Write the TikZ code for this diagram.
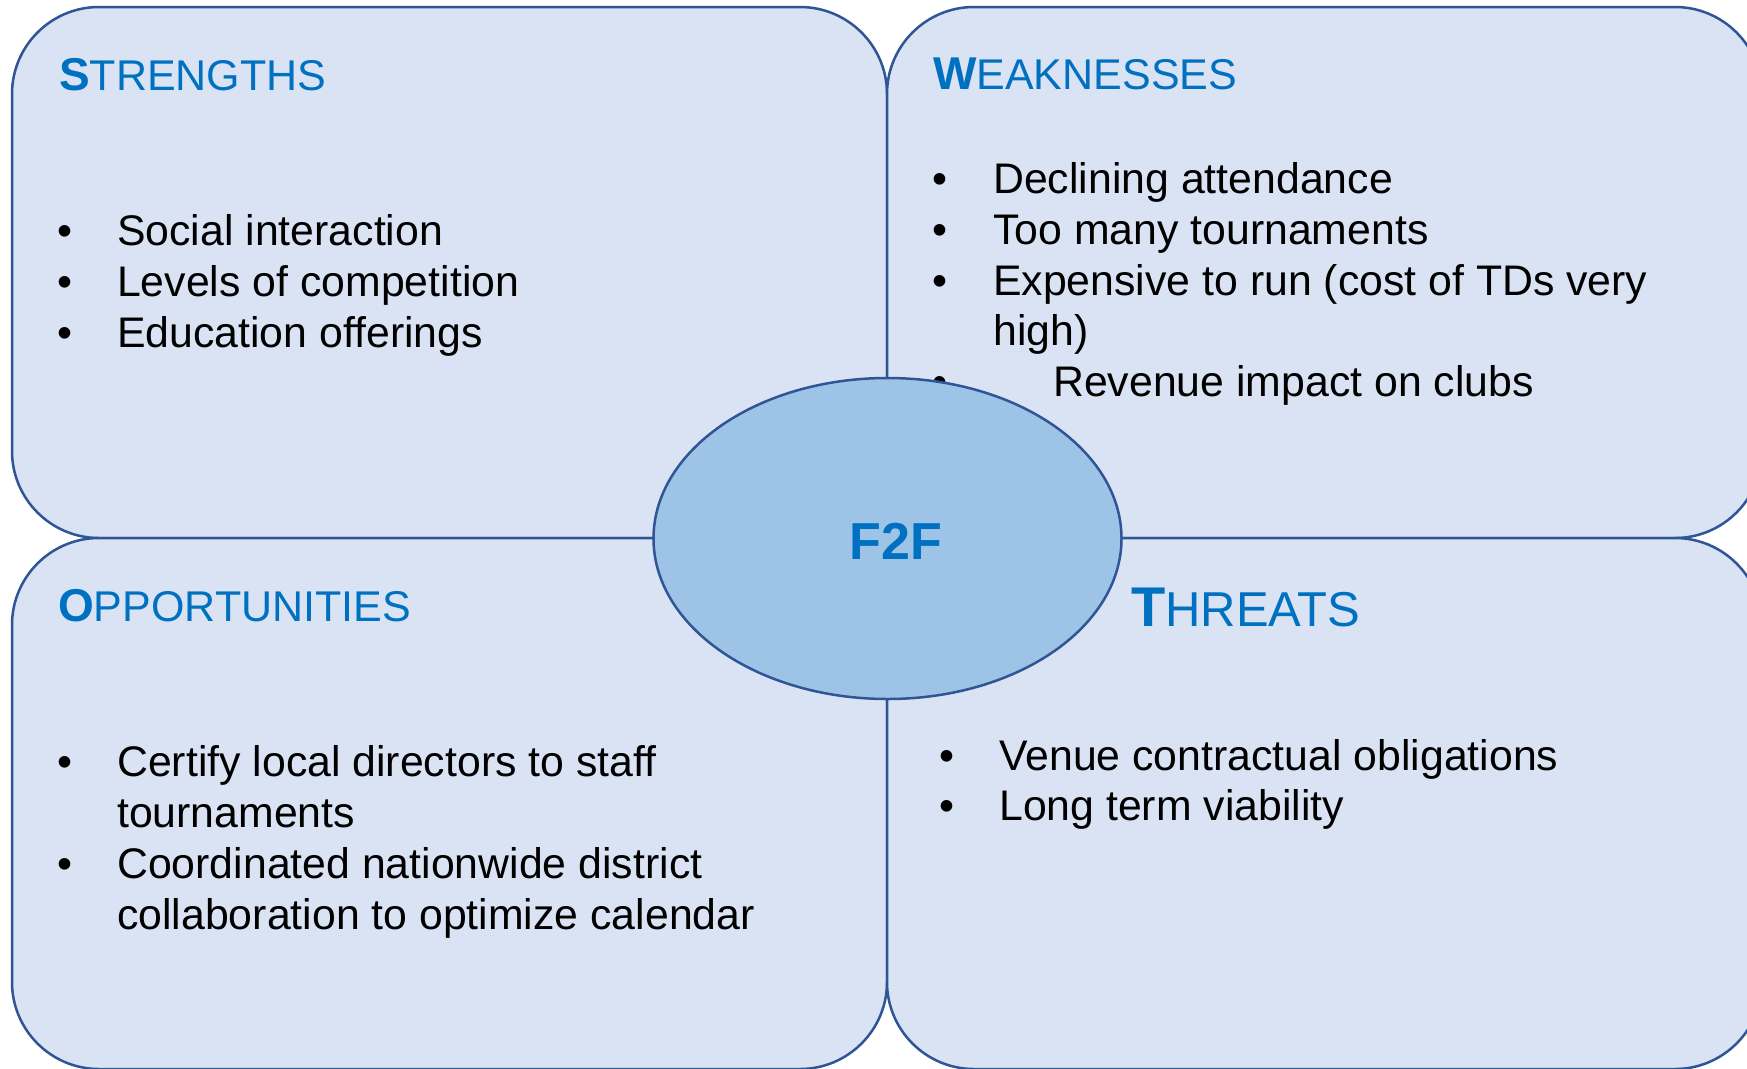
\documentclass[tikz,border=0pt]{standalone}
\usepackage{fontspec}
\setmainfont{Liberation Sans}
\usetikzlibrary{shapes.geometric}
\definecolor{boxc}{RGB}{218,227,243}
\definecolor{bordc}{RGB}{47,85,151}
\definecolor{hubc}{RGB}{157,195,230}
\definecolor{titc}{RGB}{0,112,192}
\newcommand{\bigL}[1]{{\bfseries\fontsize{46}{50}\selectfont #1}}
\newcommand{\restL}[1]{{\fontsize{43}{50}\selectfont #1}}
\tikzset{
  quad/.style={draw=bordc, fill=boxc, line width=2.5pt, rounded corners=87pt,
    minimum width=875pt, minimum height=531pt, inner sep=0pt, outer sep=0pt},
  hub/.style={ellipse, draw=bordc, fill=hubc, line width=2.5pt,
    minimum width=468pt, minimum height=321pt, inner sep=0pt},
  ttl/.style={anchor=base west, inner sep=0pt, text=titc},
  itm/.style={anchor=base west, inner sep=0pt, font=\fontsize{42.8}{50}\selectfont},
  bul/.style={anchor=base, inner sep=0pt, font=\fontsize{42.8}{50}\selectfont},
}
\begin{document}
\begin{tikzpicture}[x=1pt, y=-1pt]
\useasboundingbox (0,0) rectangle (1747,1068);
\clip (0,0) rectangle (1747,1068);
\fill[white] (0,0) rectangle (1747,1068);
% quadrants
\node[quad] (qs) at (449.5,272.5) {};
\node[quad] (qw) at (1324.5,272.5) {};
\node[quad] (qo) at (449.5,803.5) {};
\node[quad] (qt) at (1324.5,803.5) {};
% titles
\node[ttl] (ts) at (59,90) {\bigL{S}\restL{TRENGTHS}};
\node[ttl] (tw) at (933,89.5) {\bigL{W}\restL{EAKNESSES}};
\node[ttl] (to) at (58,621.7) {\bigL{O}\restL{PPORTUNITIES}};
\node[ttl] (tt) at (1131,626.7) {{\bfseries\fontsize{56}{60}\selectfont T}{\fontsize{49}{60}\selectfont HREATS}};
% strengths
\node[bul] (bs1) at (65,245) {•};
\node[itm] (s1) at (117,245) {Social interaction};
\node[bul] (bs2) at (65,296) {•};
\node[itm] (s2) at (117,296) {Levels of competition};
\node[bul] (bs3) at (65,347) {•};
\node[itm] (s3) at (117,347) {Education offerings};
% weaknesses
\node[bul] (bw1) at (940,193.5) {•};
\node[itm] (w1) at (993,193.5) {Declining attendance};
\node[bul] (bw2) at (940,244.5) {•};
\node[itm] (w2) at (993,244.5) {Too many tournaments};
\node[bul] (bw3) at (940,295) {•};
\node[itm] (w3) at (993,295) {Expensive to run (cost of TDs very};
\node[itm] (w3b) at (993,345.5) {high)};
\node[bul] (bw4) at (940,396.5) {•};
\node[itm] (w4) at (1053,396.5) {Revenue impact on clubs};
% opportunities
\node[bul] (bo1) at (65,776.7) {•};
\node[itm] (o1) at (117,776.7) {Certify local directors to staff};
\node[itm] (o1b) at (117,827.2) {tournaments};
\node[bul] (bo2) at (65,878.3) {•};
\node[itm] (o2) at (117,878.3) {Coordinated nationwide district};
\node[itm] (o2b) at (117,929.5) {collaboration to optimize calendar};
% threats
\node[bul] (bt1) at (947,770) {•};
\node[itm] (t1) at (999,770) {Venue contractual obligations};
\node[bul] (bt2) at (947,820.5) {•};
\node[itm] (t2) at (999,820.5) {Long term viability};
% hub
\node[hub] (hub) at (887.5,538.5) {};
\node[anchor=base, inner sep=0pt, text=titc, font=\bfseries\fontsize{52}{60}\selectfont] (f2f) at (896,559.3) {F2F};
\end{tikzpicture}
\end{document}
